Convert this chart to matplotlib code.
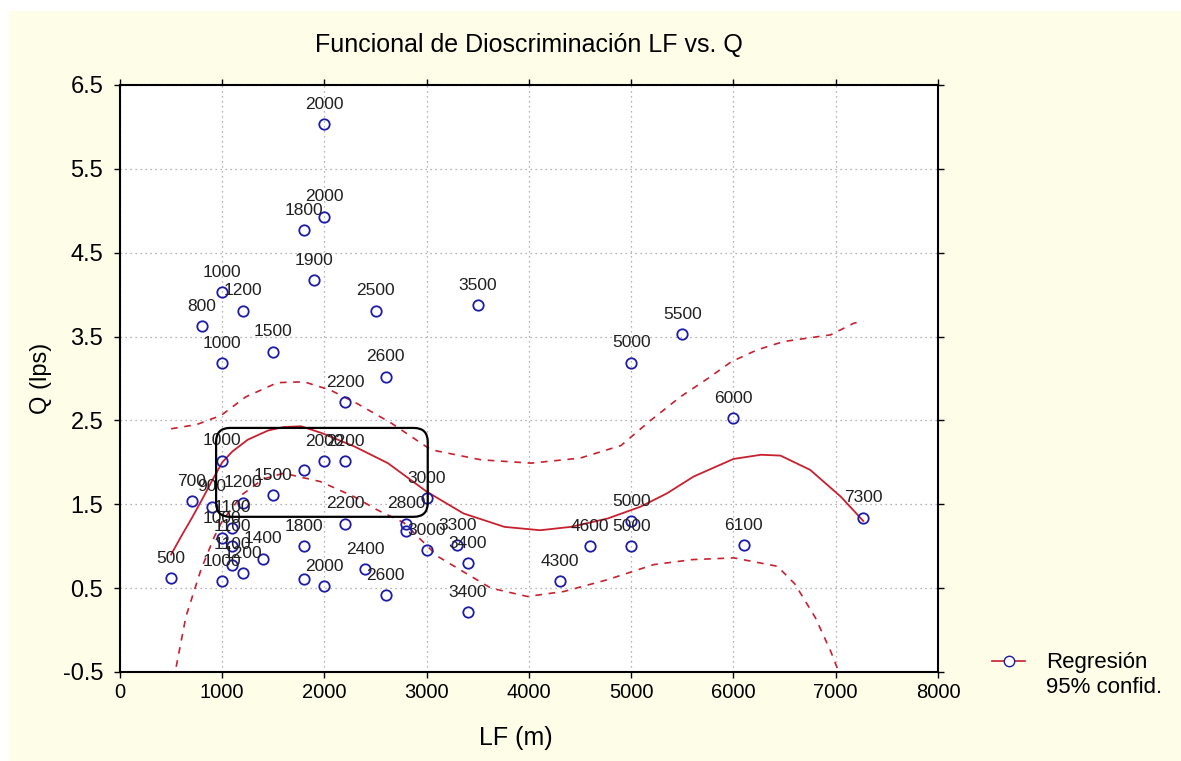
import numpy as np
import matplotlib
matplotlib.use("Agg")
import matplotlib.pyplot as plt
from matplotlib.patches import FancyBboxPatch, Rectangle
from matplotlib.lines import Line2D

# datos (LF en m, Q en lps) y etiqueta de cada punto
lf = [500, 700, 800, 900, 1000, 1000, 1000, 1000, 1000, 1100, 1100, 1100,
      1200, 1200, 1200, 1400, 1500, 1500, 1800, 1800, 1800, 1800, 1900,
      2000, 2000, 2000, 2000, 2200, 2200, 2200, 2400, 2500, 2600, 2600,
      2800, 2800, 3000, 3000, 3300, 3400, 3400, 3500, 4300, 4600, 5000,
      5000, 5000, 5500, 6000, 6100, 7270]
q = [0.62, 1.54, 3.62, 1.47, 4.03, 3.18, 2.02, 1.10, 0.58, 1.22, 1.00, 0.78,
     3.81, 1.52, 0.68, 0.85, 3.32, 1.61, 4.77, 1.91, 1.00, 0.61, 4.17,
     6.03, 4.93, 2.01, 0.52, 2.72, 2.01, 1.27, 0.73, 3.81, 3.02, 0.42,
     1.27, 1.18, 1.57, 0.95, 1.01, 0.80, 0.21, 3.87, 0.58, 1.00, 3.19,
     1.30, 1.00, 3.53, 2.53, 1.01, 1.34]
etiquetas = ["500", "700", "800", "900", "1000", "1000", "1000", "1000", "1000",
             "1100", "1100", "1100", "1200", "1200", "1200", "1400", "1500",
             "1500", "1800", "", "1800", "", "1900", "2000", "2000", "2000",
             "2000", "2200", "2200", "2200", "2400", "2500", "2600", "2600",
             "2800", "", "3000", "3000", "3300", "3400", "3400", "3500",
             "4300", "4600", "5000", "5000", "5000", "5500", "6000", "6100",
             "7300"]

# curva de regresion y bandas de confianza 95%
reg_x = [500, 600, 700, 800, 900, 1000, 1100, 1250, 1450, 1600, 1770, 1970,
         2290, 2620, 3000, 3360, 3760, 4110, 4410, 4770, 5090, 5350, 5610,
         6000, 6270, 6460, 6750, 7050, 7270]
reg_y = [0.90, 1.12, 1.33, 1.55, 1.78, 2.00, 2.13, 2.27, 2.38, 2.42, 2.43, 2.35,
         2.19, 1.99, 1.65, 1.39, 1.23, 1.19, 1.23, 1.33, 1.47, 1.63, 1.83,
         2.04, 2.09, 2.08, 1.91, 1.59, 1.30]
sup_x = [500, 750, 990, 1230, 1540, 1800, 2060, 2320, 2650, 3040, 3530, 4020,
         4500, 4900, 5190, 5480, 5750, 5980, 6230, 6490, 6720, 6950, 7180, 7270]
sup_y = [2.40, 2.45, 2.56, 2.78, 2.95, 2.96, 2.86, 2.70, 2.47, 2.15, 2.03, 1.99,
         2.05, 2.20, 2.50, 2.78, 3.00, 3.20, 3.34, 3.44, 3.48, 3.52, 3.66, 3.68]
inf_x = [500, 645, 792, 922, 1000, 1200, 1400, 1600, 1960, 2290, 2520, 2776,
         3105, 3627, 3985, 4343, 4767, 5220, 5600, 6005, 6430, 6600, 6800,
         6950, 7030, 7100]
inf_y = [-0.75, 0.16, 0.72, 1.11, 1.30, 1.62, 1.80, 1.87, 1.77, 1.59, 1.43, 1.28,
         0.88, 0.50, 0.40, 0.46, 0.60, 0.78, 0.84, 0.86, 0.76, 0.55, 0.15,
         -0.25, -0.50, -0.75]

plt.rcParams['font.family'] = ["Liberation Sans", "DejaVu Sans"]

fig = plt.figure(figsize=(11.81, 7.61), dpi=100, facecolor='#fdfde8')
fig.patches.append(Rectangle((0, 1 - 10 / 761), 1, 10 / 761, transform=fig.transFigure,
                             color='white', zorder=0))
fig.patches.append(Rectangle((0, 0), 8 / 1181, 1, transform=fig.transFigure,
                             color='white', zorder=0))

ax = fig.add_axes([0.1016, 0.117, 0.6926, 0.7714])
ax.set_facecolor('white')

rojo = '#c8202e'
ax.plot(reg_x, reg_y, color=rojo, linewidth=1.3, zorder=3)
ax.plot(sup_x, sup_y, color=rojo, linewidth=1.2, linestyle=(0, (4, 4)), zorder=3)
ax.plot(inf_x, inf_y, color=rojo, linewidth=1.2, linestyle=(0, (4, 4)), zorder=3)

ax.plot(lf, q, linestyle='none', marker='o', markersize=7.5, mfc='none',
        mec='#1c1ca8', mew=1.3, zorder=4)
for x, y, t in zip(lf, q, etiquetas):
    ax.annotate(t, (x, y), xytext=(0, 11), textcoords='offset points',
                ha='center', va='baseline', fontsize=12.5, color='#202020', zorder=5)

ax.set_xlim(0, 8000)
ax.set_ylim(-0.5, 6.5)
ax.set_xticks(np.arange(0, 8001, 1000))
ax.set_yticks(np.arange(-0.5, 6.51, 1.0))
ax.set_yticklabels([f"{v:.1f}" for v in np.arange(-0.5, 6.51, 1.0)])
ax.tick_params(axis='both', direction='out', length=4, top=True, right=True, width=1)
ax.tick_params(axis='x', labelsize=14.5, pad=4)
ax.tick_params(axis='y', labelsize=17, pad=8)
ax.grid(True, linestyle=(0, (1, 3)), color='#9a9a9a', linewidth=0.9)
for s in ax.spines.values():
    s.set_linewidth(1.5)
    s.set_color('black')

# recuadro redondeado
bb = ax.get_position()
px_x = 8000 / (bb.width * 1181)
px_y = 7.0 / (bb.height * 761)
caja = FancyBboxPatch((940, 1.35), 3010 - 940, 2.41 - 1.35,
                      boxstyle="round,pad=0,rounding_size=%f" % (14 * px_x),
                      mutation_aspect=px_y / px_x, transform=ax.transData,
                      fill=False, edgecolor='black', linewidth=1.6, zorder=6)
ax.add_patch(caja)

ax.set_xlabel("LF (m)", fontsize=18)
ax.xaxis.set_label_coords(0.484, -0.092)
ax.set_ylabel("Q (lps)", fontsize=17, labelpad=8)
ax.set_title("Funcional de Dioscriminación LF vs. Q", fontsize=18, pad=24)

h1 = Line2D([], [], color=rojo, marker='o', mfc='white', mec='#1c1ca8',
            markersize=7.5, linewidth=1.2)
h2 = Line2D([], [], linestyle='none')
fig.legend([h1, h2], ["Regresión", "95% confid."], loc='center left',
           bbox_to_anchor=(0.8323, 0.113), frameon=False, fontsize=16,
           handlelength=1.5, handletextpad=0.95, labelspacing=0.15,
           borderaxespad=0)

fig.savefig("out.png", dpi=100, facecolor=fig.get_facecolor())
